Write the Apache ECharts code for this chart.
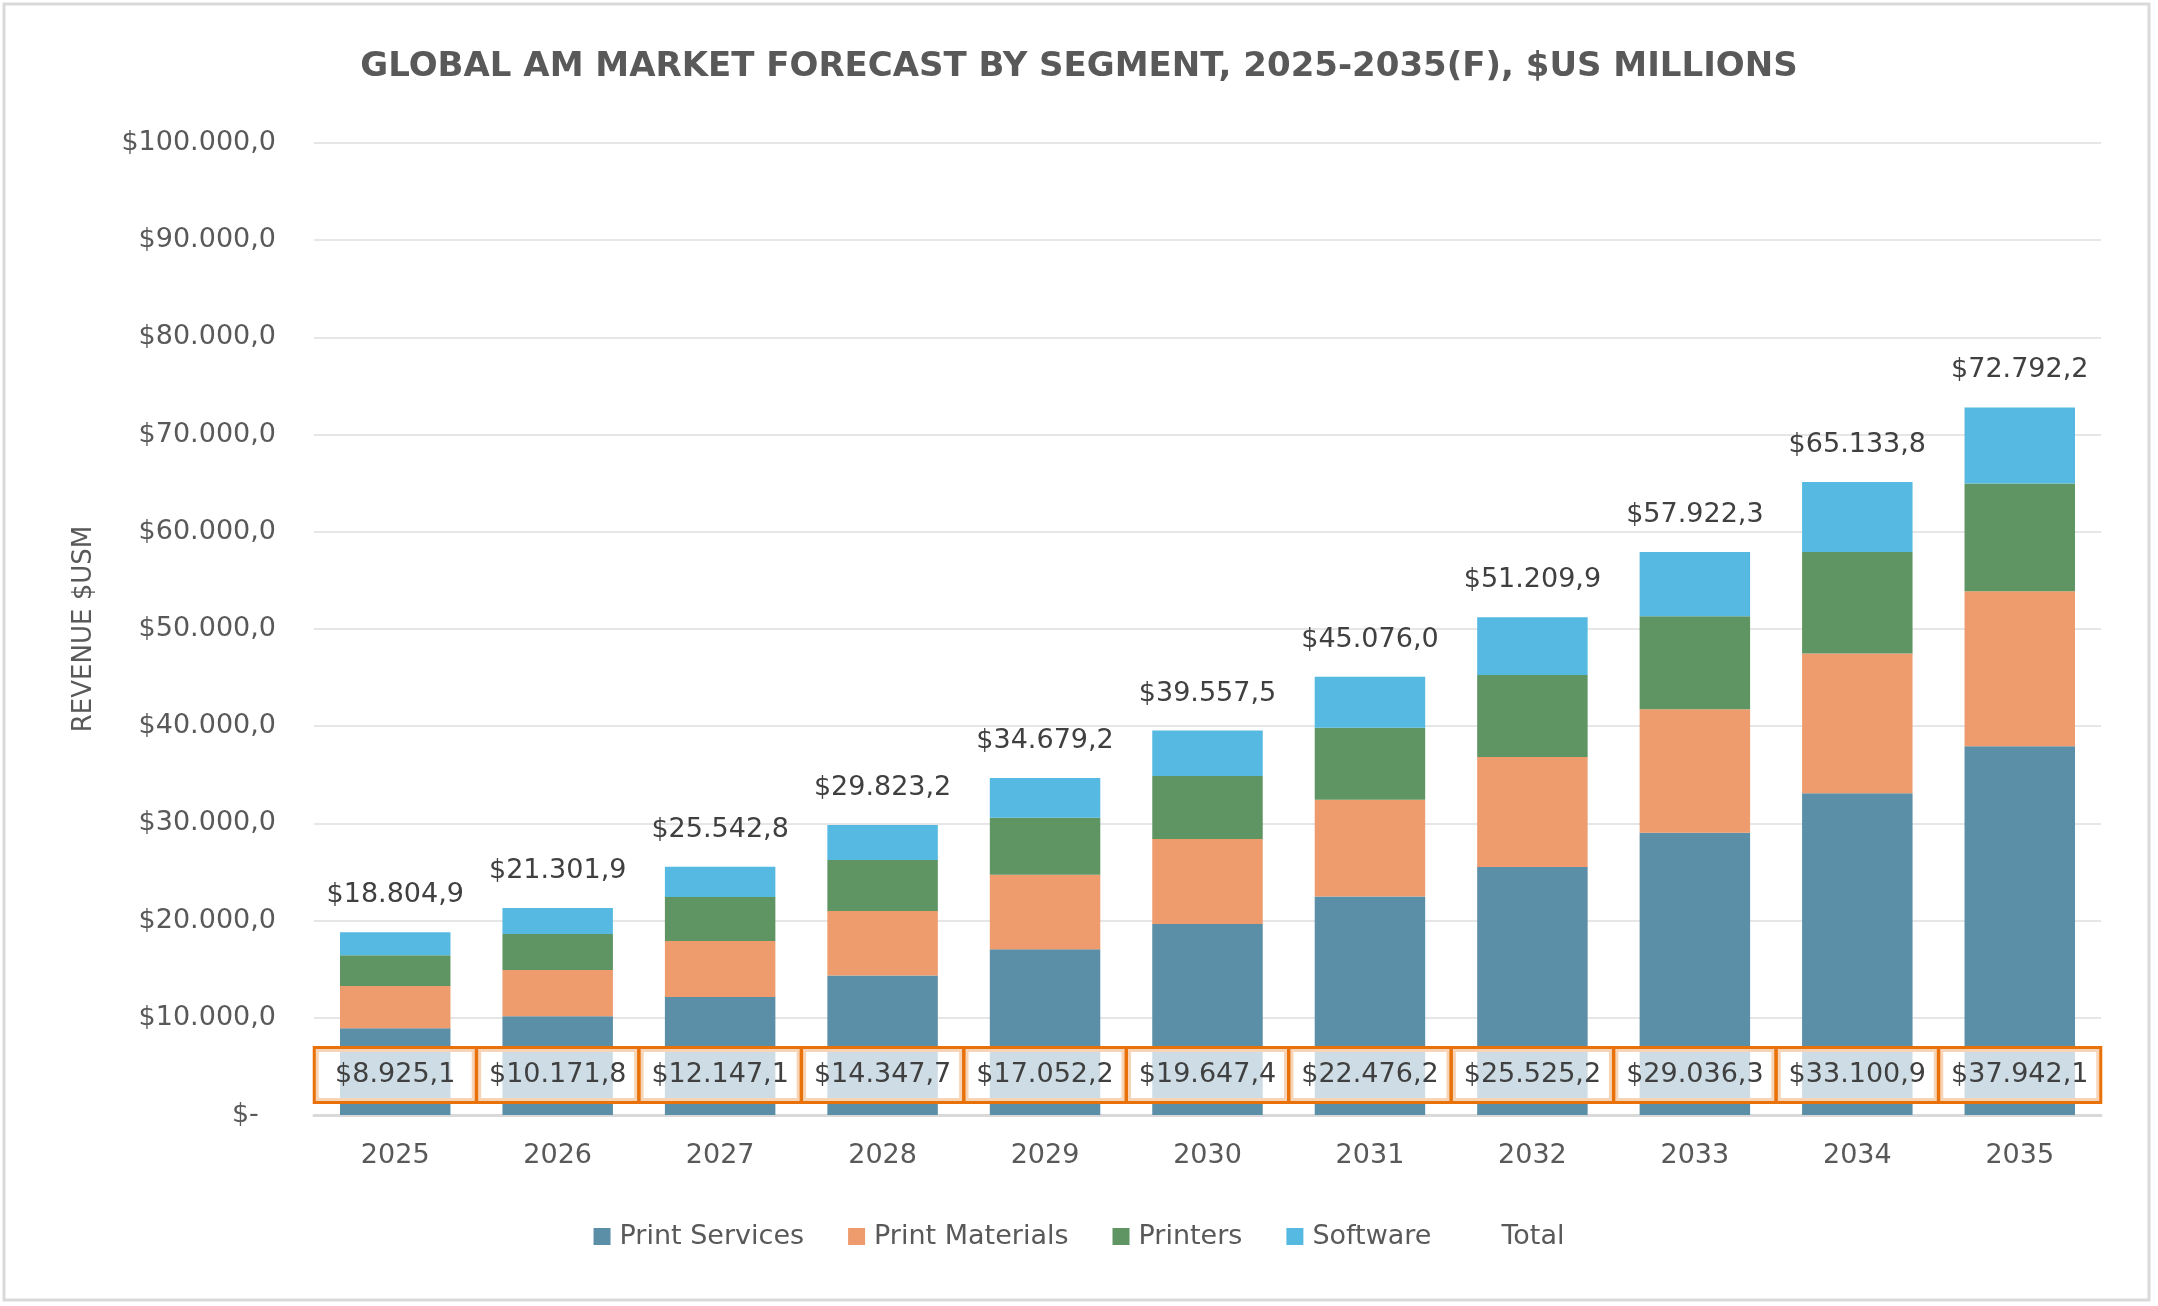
<!DOCTYPE html>
<html>
<head>
<meta charset="utf-8">
<script src="https://cdn.jsdelivr.net/npm/echarts@6/dist/echarts.min.js"></script>
<style>
html,body{margin:0;padding:0;background:#fff;}
#chart{width:2158px;height:1306px;}
</style>
</head>
<body>
<div id="chart"></div>
<script>
const years = ['2025','2026','2027','2028','2029','2030','2031','2032','2033','2034','2035'];
const printServices = [8925.1, 10171.8, 12147.1, 14347.7, 17052.2, 19647.4, 22476.2, 25525.2, 29036.3, 33100.9, 37942.1];
const printMaterials = [4340, 4750, 5750, 6640, 7670, 8750, 9960, 11300, 12720, 14380, 15950];
const printers = [3160, 3700, 4530, 5240, 5870, 6480, 7410, 8440, 9560, 10440, 11070];
const totals = [18804.9, 21301.9, 25542.8, 29823.2, 34679.2, 39557.5, 45076.0, 51209.9, 57922.3, 65133.8, 72792.2];
const software = totals.map((t, i) => +(t - printServices[i] - printMaterials[i] - printers[i]).toFixed(1));
const yTicks = { min: 0, max: 100000, interval: 10000 };

function fmt(v) {
  const fixed = Math.abs(v).toFixed(1);
  const parts = fixed.split('.');
  const intPart = parts[0].replace(/\B(?=(\d{3})+(?!\d))/g, '.');
  return '$' + intPart + ',' + parts[1];
}

const FONT = 'DejaVu Sans';
const chart = echarts.init(document.getElementById('chart'));
chart.setOption({
  animation: false,
  backgroundColor: '#ffffff',
  textStyle: { fontFamily: FONT },
  title: {
    text: 'GLOBAL AM MARKET FORECAST BY SEGMENT, 2025-2035(F), $US MILLIONS',
    left: 'center',
    top: 45,
    textStyle: { fontFamily: FONT, fontSize: 34, fontWeight: 'bold', color: '#595959' }
  },
  graphic: [{
    type: 'rect', z: -10, silent: true,
    shape: { x: 4, y: 4, width: 2145, height: 1296 },
    style: { fill: 'none', stroke: '#d9d9d9', lineWidth: 3 }
  }],
  legend: {
    top: 1218,
    left: 'center',
    itemWidth: 17,
    itemHeight: 17,
    itemGap: 44,
    textStyle: { fontFamily: FONT, fontSize: 27, color: '#595959', padding: [0, 0, 0, 4] },
    data: [
      { name: 'Print Services', icon: 'rect' },
      { name: 'Print Materials', icon: 'rect' },
      { name: 'Printers', icon: 'rect' },
      { name: 'Software', icon: 'rect' },
      { name: 'Total', icon: 'rect', itemStyle: { color: 'rgba(0,0,0,0)', borderWidth: 0 } }
    ]
  },
  grid: { left: 314, right: 57, top: 143, bottom: 191, containLabel: false },
  xAxis: {
    type: 'category',
    data: years,
    axisTick: { show: false },
    axisLine: { lineStyle: { color: '#d9d9d9', width: 3 } },
    axisLabel: { fontFamily: FONT, fontSize: 27, color: '#595959', margin: 27 }
  },
  yAxis: {
    type: 'value',
    min: yTicks.min, max: yTicks.max, interval: yTicks.interval,
    name: 'REVENUE $USM',
    nameLocation: 'middle',
    nameRotate: 90,
    nameGap: 217,
    nameTextStyle: { fontFamily: FONT, fontSize: 26, color: '#595959' },
    axisLine: { show: false },
    axisTick: { show: false },
    splitLine: { lineStyle: { color: '#e6e6e6', width: 2 } },
    axisLabel: {
      fontFamily: FONT, fontSize: 27, color: '#595959', margin: 38,
      formatter: v => v === 0 ? '$-  ' : fmt(v)
    }
  },
  series: [
    {
      name: 'Print Services', type: 'bar', stack: 'a', data: printServices,
      barCategoryGap: '32%',
      itemStyle: { color: '#5B8EA7' },
      label: {
        show: true, position: 'insideBottom', distance: 14,
        formatter: p => fmt(p.value),
        fontFamily: FONT, fontSize: 27, color: '#404040',
        backgroundColor: 'rgba(255,255,255,0.7)',
        borderColor: '#E8710A', borderWidth: 3, borderRadius: 0,
        width: 151, align: 'center', lineHeight: 32,
        padding: [10, 4]
      },
      z: 2
    },
    { name: 'Print Materials', type: 'bar', stack: 'a', data: printMaterials, itemStyle: { color: '#EE9B6E' } },
    { name: 'Printers', type: 'bar', stack: 'a', data: printers, itemStyle: { color: '#5F9563' } },
    { name: 'Software', type: 'bar', stack: 'a', data: software, itemStyle: { color: '#55B9E1' } },
    {
      name: 'Total', type: 'line', data: totals,
      symbol: 'circle', symbolSize: 1,
      itemStyle: { color: 'rgba(0,0,0,0)' },
      lineStyle: { opacity: 0 },
      label: {
        show: true, position: 'top', distance: 23,
        formatter: p => fmt(p.value),
        fontFamily: FONT, fontSize: 27, color: '#404040'
      },
      z: 5
    }
  ]
});
</script>
</body>
</html>
